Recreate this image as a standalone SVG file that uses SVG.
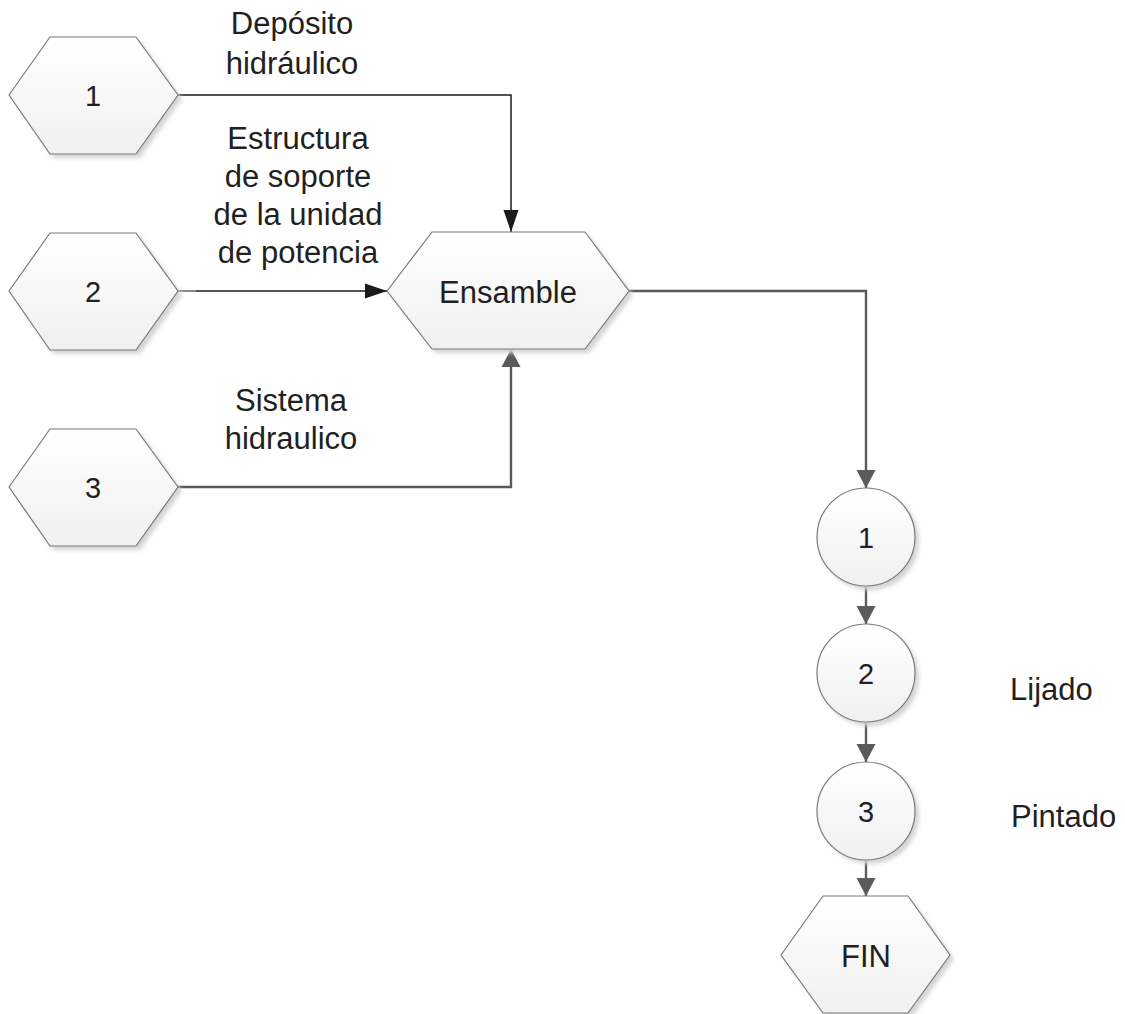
<svg xmlns="http://www.w3.org/2000/svg" width="1125" height="1014" viewBox="0 0 1125 1014">
  <defs>
    <linearGradient id="nodeFill" x1="0" y1="0" x2="0" y2="1">
      <stop offset="0" stop-color="#ffffff"/>
      <stop offset="1" stop-color="#f0f0f0"/>
    </linearGradient>
    <filter id="soft" x="-10%" y="-10%" width="130%" height="130%">
      <feGaussianBlur stdDeviation="2"/>
    </filter>
    <marker id="arrowDark" markerUnits="userSpaceOnUse" markerWidth="24" markerHeight="16" refX="22" refY="8" orient="auto">
      <path d="M0,0.5 L22,8 L0,15.5 Z" fill="#1a1a1a"/>
    </marker>
    <marker id="arrowGrey" markerUnits="userSpaceOnUse" markerWidth="20" markerHeight="20" refX="18" refY="10" orient="auto">
      <path d="M0,0.5 L18,10 L0,19.5 Z" fill="#5a5a5a"/>
    </marker>
  </defs>
  <style>
    .shape { fill: url(#nodeFill); stroke: #7a7a7a; stroke-width: 1.2; }
    .shadow { fill: #d4d4d4; filter: url(#soft); }
    .num { font-family: "Liberation Sans", Arial, sans-serif; font-size: 29px; fill: #231f20; text-anchor: middle; dominant-baseline: central; }
    .big { font-size: 31px; }
    .lbl { font-family: "Liberation Sans", Arial, sans-serif; font-size: 31px; fill: #231f20; text-anchor: middle; }
    .side { font-family: "Liberation Sans", Arial, sans-serif; font-size: 31px; fill: #231f20; }
    .dark { fill: none; stroke: #1a1a1a; stroke-width: 1.5; }
    .grey { fill: none; stroke: #5a5a5a; stroke-width: 2.4; }
  </style>

  <rect width="1125" height="1014" fill="#ffffff"/>

  <!-- connectors -->
  <g id="connectors">
    <path class="dark" d="M178,95 H511 V232" marker-end="url(#arrowDark)"/>
    <path class="dark" d="M178,291 H387" marker-end="url(#arrowDark)"/>
    <path d="M178,291 H196" fill="none" stroke="#8a8a8a" stroke-width="2"/>
    <path class="grey" d="M178,487 H511 V349" marker-end="url(#arrowGrey)"/>
    <path class="grey" d="M629,291 H866 V488" marker-end="url(#arrowGrey)"/>
    <path class="grey" d="M866,586 V624" marker-end="url(#arrowGrey)"/>
    <path class="grey" d="M866,722 V762" marker-end="url(#arrowGrey)"/>
    <path class="grey" d="M866,860 V896" marker-end="url(#arrowGrey)"/>
  </g>

  <!-- input hexagons -->
  <g id="input-1">
    <polygon class="shadow" points="13,99 54,41 140,41 182,99 140,158 54,158"/>
    <polygon class="shape" points="9,95 50,37 136,37 178,95 136,154 50,154"/>
    <text class="num" x="93" y="96">1</text>
  </g>
  <g id="input-2">
    <polygon class="shadow" points="13,295 54,237 140,237 182,295 140,354 54,354"/>
    <polygon class="shape" points="9,291 50,233 136,233 178,291 136,350 50,350"/>
    <text class="num" x="93" y="292">2</text>
  </g>
  <g id="input-3">
    <polygon class="shadow" points="13,491 54,433 140,433 182,491 140,550 54,550"/>
    <polygon class="shape" points="9,487 50,429 136,429 178,487 136,546 50,546"/>
    <text class="num" x="93" y="488">3</text>
  </g>

  <!-- assembly -->
  <g id="ensamble">
    <polygon class="shadow" points="391,295 436,236 589,236 633,295 589,353 436,353"/>
    <polygon class="shape" points="387,291 432,232 585,232 629,291 585,349 432,349"/>
    <text class="num big" x="508" y="292">Ensamble</text>
  </g>

  <!-- operations -->
  <g id="op-1">
    <circle class="shadow" cx="870" cy="541" r="49"/>
    <circle class="shape" cx="866" cy="537" r="49"/>
    <text class="num" x="866" y="538">1</text>
  </g>
  <g id="op-2">
    <circle class="shadow" cx="870" cy="677" r="49"/>
    <circle class="shape" cx="866" cy="673" r="49"/>
    <text class="num" x="866" y="674">2</text>
  </g>
  <g id="op-3">
    <circle class="shadow" cx="870" cy="815" r="49"/>
    <circle class="shape" cx="866" cy="811" r="49"/>
    <text class="num" x="866" y="812">3</text>
  </g>

  <!-- end -->
  <g id="fin">
    <polygon class="shadow" points="785,959 827,900 912,900 954,959 912,1017 827,1017"/>
    <polygon class="shape" points="781,955 823,896 908,896 950,955 908,1013 823,1013"/>
    <text class="num big" x="866" y="956">FIN</text>
  </g>

  <!-- labels -->
  <g id="labels">
    <text class="lbl" x="292" y="34">Depósito</text>
    <text class="lbl" x="292" y="74">hidráulico</text>
    <text class="lbl" x="298" y="149">Estructura</text>
    <text class="lbl" x="298" y="187">de soporte</text>
    <text class="lbl" x="298" y="225">de la unidad</text>
    <text class="lbl" x="298" y="263">de potencia</text>
    <text class="lbl" x="291" y="411">Sistema</text>
    <text class="lbl" x="291" y="449">hidraulico</text>
    <text class="side" x="1010" y="700">Lijado</text>
    <text class="side" x="1011" y="827">Pintado</text>
  </g>
</svg>
